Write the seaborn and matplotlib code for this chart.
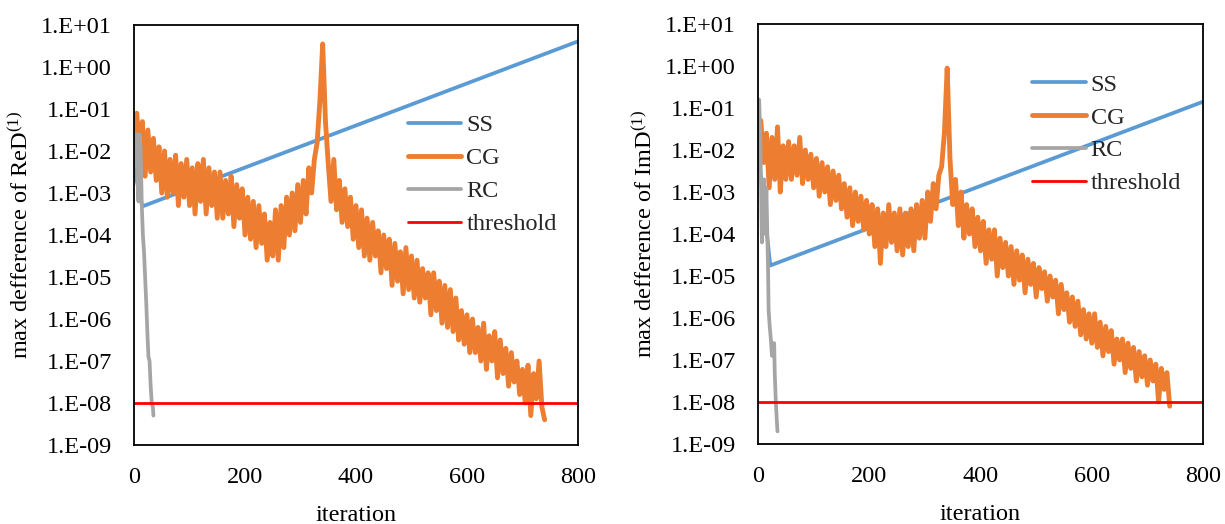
import numpy as np
import matplotlib
matplotlib.use('Agg')
import matplotlib.pyplot as plt
from matplotlib.ticker import FixedLocator, FuncFormatter, NullLocator
import seaborn as sns

# ---- data (y values stored as log10 of the max difference) ----
THRESHOLD = 1e-8

# CG read every 5 iterations, 0..740
cg_iter = list(range(0, 745, 5))

cg_re_log10 = [
    -2.3, -1.1, -2.2, -1.3, -2.6, -1.5, -2.5, -1.7, -2.7, -1.9,
    -3.0, -2.0, -3.1, -2.2, -3.0, -2.1, -3.3, -2.3, -3.1, -2.2,
    -3.3, -2.4, -3.5, -2.3, -3.2, -2.2, -3.5, -2.4, -3.3, -2.5,
    -3.6, -2.5, -3.6, -2.7, -3.5, -2.6, -3.8, -2.8, -3.6, -2.9,
    -4.0, -3.1, -4.1, -3.2, -4.3, -3.3, -4.2, -3.5, -4.6, -3.7,
    -4.5, -3.4, -4.6, -3.3, -4.3, -3.1, -4.0, -3.0, -3.9, -2.8,
    -3.7, -2.7, -3.5, -2.4, -3.0, -2.2, -1.8, -0.8, 0.55, -1.3,
    -2.3, -3.2, -2.2, -3.4, -2.7, -3.7, -2.9, -3.8, -3.1, -4.1,
    -3.3, -4.3, -3.4, -4.5, -3.6, -4.6, -3.7, -4.5, -3.9, -4.9,
    -4.0, -4.8, -4.1, -5.2, -4.2, -5.1, -4.4, -5.4, -4.3, -5.3,
    -4.5, -5.5, -4.6, -5.6, -4.8, -5.5, -4.9, -5.9, -4.9, -5.8,
    -5.1, -6.1, -5.2, -6.2, -5.3, -6.3, -5.5, -6.5, -5.8, -6.6,
    -5.9, -6.8, -6.0, -6.8, -6.2, -7.0, -6.1, -7.2, -6.4, -7.0,
    -6.3, -7.4, -6.5, -7.3, -6.7, -7.6, -6.8, -7.5, -7.0, -7.8,
    -7.2, -8.0, -7.1, -8.3, -7.3, -7.9, -7.0, -8.1, -8.4,
]

cg_im_log10 = [
    -2.3, -1.3, -2.3, -1.6, -2.9, -1.7, -2.7, -1.45, -3.0, -1.9,
    -2.7, -1.8, -2.7, -1.9, -2.6, -1.7, -2.8, -2.0, -2.7, -2.1,
    -2.9, -2.2, -3.1, -2.3, -3.0, -2.4, -3.3, -2.5, -3.2, -2.6,
    -3.4, -2.8, -3.6, -2.9, -3.8, -3.0, -3.7, -3.1, -3.9, -3.2,
    -4.0, -3.3, -4.3, -3.4, -4.7, -3.5, -4.3, -3.3, -4.2, -3.5,
    -4.4, -3.4, -4.5, -3.5, -4.3, -3.4, -4.4, -3.3, -4.1, -3.2,
    -4.1, -3.0, -3.7, -2.8, -3.4, -2.6, -2.4, -1.6, -0.05, -2.2,
    -3.3, -2.7, -3.8, -3.0, -4.1, -3.3, -4.0, -3.4, -4.3, -3.6,
    -4.4, -3.7, -4.7, -3.9, -4.6, -3.9, -5.0, -4.1, -4.8, -4.2,
    -5.0, -4.3, -5.2, -4.4, -5.1, -4.5, -5.4, -4.6, -5.2, -4.7,
    -5.5, -4.8, -5.3, -4.9, -5.6, -5.0, -5.5, -5.1, -5.9, -5.2,
    -5.8, -5.4, -6.1, -5.5, -6.2, -5.6, -6.4, -5.8, -6.5, -5.9,
    -6.6, -5.9, -6.7, -6.1, -6.9, -6.2, -6.8, -6.3, -7.1, -6.5,
    -7.0, -6.5, -7.3, -6.6, -7.2, -6.7, -7.5, -6.8, -7.4, -6.9,
    -7.6, -7.0, -7.5, -7.1, -8.0, -7.2, -7.7, -7.3, -8.1,
]

ss_re_iter = [0, 15, 800]
ss_re_log10 = [-2.4, -3.32, 0.61]
ss_im_iter = [0, 22, 800]
ss_im_log10 = [-2.0, -4.75, -0.85]

rc_re_iter = [0, 2, 4, 6, 8, 10, 12, 14, 16, 18, 20, 22, 24, 26, 28, 30, 32, 34, 35]
rc_re_log10 = [-1.6, -2.3, -1.6, -2.6, -3.2, -1.6, -2.0, -3.3, -4.0, -4.4,
               -5.0, -5.6, -6.3, -6.9, -7.0, -7.6, -8.0, -8.1, -8.3]
rc_im_iter = [0, 2, 4, 6, 7, 9, 11, 13, 15, 17, 18, 19, 21, 23, 25, 27, 29, 30, 32, 34, 35]
rc_im_log10 = [-2.5, -0.8, -1.6, -3.4, -4.2, -3.0, -2.7, -4.0, -2.9, -4.2, -4.8,
               -5.8, -6.2, -6.5, -6.9, -6.6, -6.6, -7.3, -8.0, -8.5, -8.7]

colors = {'SS': '#5B9BD5', 'CG': '#ED7D31', 'RC': '#A5A5A5', 'threshold': '#FF0000'}
widths = {'SS': 2.7, 'CG': 3.5, 'RC': 2.7}

sns.set_theme(style='white')
plt.rcParams['font.family'] = ['Liberation Serif', 'DejaVu Serif']
plt.rcParams['mathtext.fontset'] = 'custom'
plt.rcParams['mathtext.rm'] = 'Liberation Serif'
plt.rcParams['mathtext.it'] = 'Liberation Serif:italic'

FS = 17.5


def draw_panel(ax, ss, cg, rc, ylabel, legend_anchor):
    series = [('SS', ss[0], ss[1]), ('CG', cg[0], cg[1]), ('RC', rc[0], rc[1])]
    for name, xs, ys in series:
        sns.lineplot(x=xs, y=10.0 ** np.asarray(ys), ax=ax, color=colors[name],
                     linewidth=widths[name], label=name, estimator=None, sort=False)
    sns.lineplot(x=[0, 800], y=[THRESHOLD, THRESHOLD], ax=ax, color=colors['threshold'],
                 linewidth=2, label='threshold', estimator=None)

    ax.set_yscale('log')
    ax.set_xlim(0, 800)
    ax.set_ylim(1e-9, 1e1)
    ax.xaxis.set_major_locator(FixedLocator([0, 200, 400, 600, 800]))
    ax.yaxis.set_major_locator(FixedLocator([10.0 ** k for k in range(-9, 2)]))
    ax.yaxis.set_minor_locator(NullLocator())
    ax.yaxis.set_major_formatter(FuncFormatter(lambda v, pos: '1.E%+03d' % round(np.log10(v))))
    ax.tick_params(length=0, pad=16, labelsize=FS, colors='black')
    for sp in ax.spines.values():
        sp.set_visible(True)
        sp.set_color('black')
        sp.set_linewidth(1.3)
    ax.grid(False)
    ax.set_xlabel('iteration', fontsize=FS, labelpad=12, color='black')
    ax.set_ylabel(ylabel, fontsize=FS, labelpad=6, color='black')
    ax.legend(loc='upper left', bbox_to_anchor=legend_anchor, frameon=False, fontsize=FS,
              handlelength=2.2, handletextpad=0.2, labelspacing=0.45,
              borderpad=0, borderaxespad=0)


fig = plt.figure(figsize=(12.25, 5.24), dpi=100)
ax1 = fig.add_axes([0.1094, 0.1508, 0.3624, 0.8015])
ax2 = fig.add_axes([0.6188, 0.1527, 0.3633, 0.8015])

draw_panel(ax1, (ss_re_iter, ss_re_log10), (cg_iter, cg_re_log10), (rc_re_iter, rc_re_log10),
           r'max defference of ReD$^{\mathrm{(1)}}$', (0.617, 0.787))
draw_panel(ax2, (ss_im_iter, ss_im_log10), (cg_iter, cg_im_log10), (rc_im_iter, rc_im_log10),
           r'max defference of ImD$^{\mathrm{(1)}}$', (0.616, 0.882))

fig.savefig('out.png', dpi=100)
